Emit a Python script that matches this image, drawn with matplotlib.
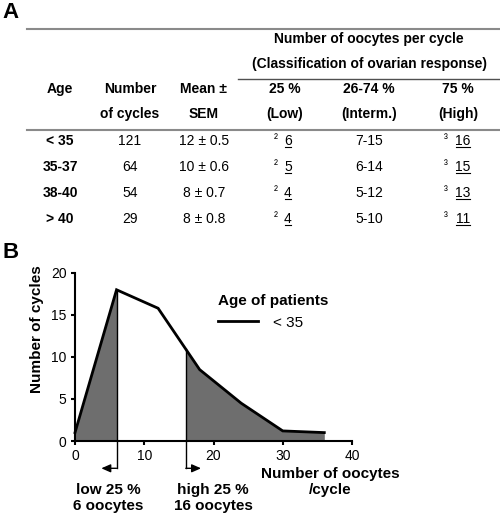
import numpy as np
import matplotlib.pyplot as plt

plt.rcParams['font.family'] = ['Liberation Sans', 'DejaVu Sans']

# Panel A: table values
age_groups = ['< 35', '35-37', '38-40', '> 40']
n_cycles = [121, 64, 54, 29]
mean_sem = ['12 ± 0.5', '10 ± 0.6', '8 ± 0.7', '8 ± 0.8']
low_25 = [6, 5, 4, 4]
interm = ['7-15', '6-14', '5-12', '5-10']
high_75 = [16, 15, 13, 11]
header1 = ['Age', 'Number', 'Mean ±', '25 %', '26-74 %', '75 %']
header2 = ['', 'of cycles', 'SEM', '(Low)', '(Interm.)', '(High)']

# Panel B: distribution for age < 35
oocytes = [0, 6, 12, 18, 24, 30, 36]
cycles_lt35 = [1.0, 18.0, 15.8, 8.5, 4.5, 1.2, 1.0]
low_cut = 6
high_cut = 16

fig = plt.figure(figsize=(5, 5.17), dpi=100)

# overlay in pixel units for the table and loose labels
tab = fig.add_axes([0, 0, 1, 1], zorder=0)
tab.set_xlim(0, 500)
tab.set_ylim(517, 0)
tab.axis('off')

tab.text(2, 13, 'A', fontsize=16, fontweight='bold', ha='left', va='center')
tab.text(2, 252, 'B', fontsize=16, fontweight='bold', ha='left', va='center')

tab.plot([27, 500], [29, 29], color='#8a8a8a', lw=1.5)
tab.plot([238, 500], [79, 79], color='#505050', lw=1.0)
tab.plot([27, 500], [130, 130], color='#8a8a8a', lw=1.5)

fs = 10
tab.text(369, 39, 'Number of oocytes per cycle', fontsize=fs, fontweight='bold',
         ha='center', va='center')
tab.text(370, 64, '(Classification of ovarian response)', fontsize=fs,
         fontweight='bold', ha='center', va='center')

col_x = [60, 130, 204, 285, 369, 458]
for cx, h1, h2 in zip(col_x, header1, header2):
    tab.text(cx, 89, h1, fontsize=fs, fontweight='bold', ha='center', va='center')
    tab.text(cx, 114, h2, fontsize=fs, fontweight='bold', ha='center', va='center')

row_y = [141, 167, 193, 219]
underlined = []
for i, ry in enumerate(row_y):
    tab.text(col_x[0], ry, age_groups[i], fontsize=fs, fontweight='bold',
             ha='center', va='center')
    tab.text(col_x[1], ry, str(n_cycles[i]), fontsize=fs, ha='center', va='center')
    tab.text(col_x[2], ry, mean_sem[i], fontsize=fs, ha='center', va='center')
    tab.text(col_x[4], ry, interm[i], fontsize=fs, ha='center', va='center')
    tab.text(276, ry - 1, '²', fontsize=8.5, ha='center', va='center')
    underlined.append(tab.text(288, ry, str(low_25[i]), fontsize=fs,
                               ha='center', va='center'))
    tab.text(446, ry - 1, '³', fontsize=8.5, ha='center', va='center')
    underlined.append(tab.text(463, ry, str(high_75[i]), fontsize=fs,
                               ha='center', va='center'))

# labels under the plot
tab.text(108, 498, 'low 25 %\n6 oocytes', fontsize=11, fontweight='bold',
         ha='center', va='center', linespacing=1.15)
tab.text(213, 498, 'high 25 %\n16 oocytes', fontsize=11, fontweight='bold',
         ha='center', va='center', linespacing=1.15)
tab.text(330, 482, 'Number of oocytes\n/cycle', fontsize=11, fontweight='bold',
         ha='center', va='center', linespacing=1.15)

# Panel B plot
ax = fig.add_axes([0.15, 0.147, 0.554, 0.325], zorder=2)
ax.patch.set_alpha(0)
x = np.array(oocytes, dtype=float)
y = np.array(cycles_lt35)

for lo, hi in [(x[0], low_cut), (high_cut, x[-1])]:
    xs = np.linspace(lo, hi, 200)
    ax.fill_between(xs, np.interp(xs, x, y), color='#6e6e6e', lw=0, zorder=1)

ax.plot(x, y, color='black', lw=2, clip_on=False, zorder=3, label='< 35',
        solid_joinstyle='miter')

arrow_y = -3.25
for cut, tip in [(low_cut, low_cut - 2.2), (high_cut, high_cut + 2.2)]:
    ax.plot([cut, cut], [np.interp(cut, x, y), arrow_y], color='black', lw=1,
            clip_on=False, zorder=2)
    ax.annotate('', xy=(tip, arrow_y), xytext=(cut, arrow_y),
                arrowprops=dict(arrowstyle='-|>,head_length=0.5,head_width=0.22',
                                color='black', lw=1, shrinkA=0, shrinkB=0,
                                mutation_scale=11),
                annotation_clip=False)

ax.set_xlim(0, 40)
ax.set_ylim(0, 20)
ax.set_xticks([0, 10, 20, 30, 40])
ax.set_yticks([0, 5, 10, 15, 20])
for side in ['top', 'right']:
    ax.spines[side].set_visible(False)
for side in ['left', 'bottom']:
    ax.spines[side].set_linewidth(1.5)
ax.tick_params(direction='out', length=3, width=1.5, labelsize=10, pad=3)

ax.set_ylabel('Number of cycles', fontsize=11, fontweight='bold')
ax.yaxis.set_label_coords(-0.112, 0.667)

leg = ax.legend(title='Age of patients', loc='upper left',
                bbox_to_anchor=(0.49, 0.92), frameon=False, fontsize=11,
                handlelength=2.6, handletextpad=1.0, borderpad=0,
                alignment='left', title_fontproperties={'weight': 'bold', 'size': 11})

# underline the cut-off values in the table
fig.canvas.draw()
inv = tab.transData.inverted()
for t in underlined:
    bb = t.get_window_extent().transformed(inv)
    yb = max(bb.y0, bb.y1) - 1.5
    tab.plot([bb.x0 + 0.5, bb.x1 - 0.5], [yb, yb], color='black', lw=0.8)

fig.savefig('out.png', dpi=100)
